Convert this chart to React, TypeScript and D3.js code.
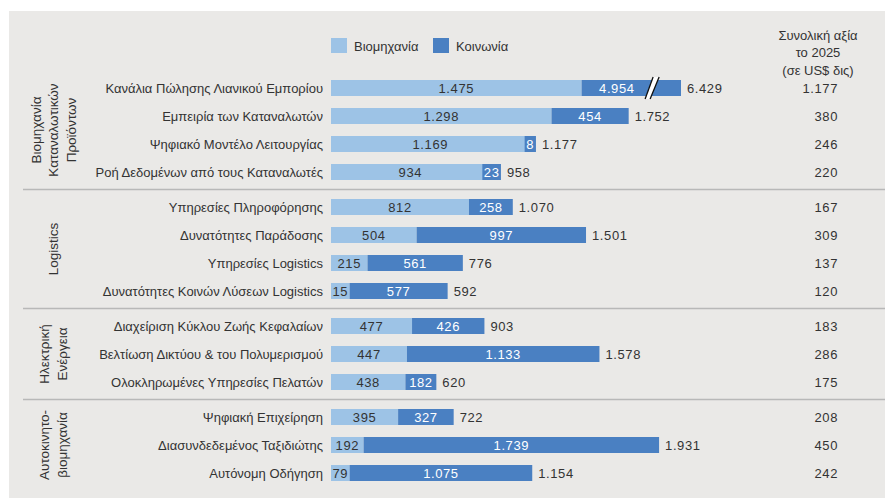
import * as d3 from "d3";

const categories = [
  "Κανάλια Πώλησης Λιανικού Εμπορίου",
  "Εμπειρία των Καταναλωτών",
  "Ψηφιακό Μοντέλο Λειτουργίας",
  "Ροή Δεδομένων από τους Καταναλωτές",
  "Υπηρεσίες Πληροφόρησης",
  "Δυνατότητες Παράδοσης",
  "Υπηρεσίες Logistics",
  "Δυνατότητες Κοινών Λύσεων Logistics",
  "Διαχείριση Κύκλου Ζωής Κεφαλαίων",
  "Βελτίωση Δικτύου & του Πολυμερισμού",
  "Ολοκληρωμένες Υπηρεσίες Πελατών",
  "Ψηφιακή Επιχείρηση",
  "Διασυνδεδεμένος Ταξιδιώτης",
  "Αυτόνομη Οδήγηση",
];
const groupOf = [0, 0, 0, 0, 1, 1, 1, 1, 2, 2, 2, 3, 3, 3];
const groupNames = [
  ["Βιομηχανία", "Καταναλωτικών", "Προϊόντων"],
  ["Logistics"],
  ["Ηλεκτρική", "Ενέργεια"],
  ["Αυτοκινητο-", "βιομηχανία"],
];
const industry = [1475, 1298, 1169, 934, 812, 504, 215, 15, 477, 447, 438, 395, 192, 79];
const society = [4954, 454, 8, 23, 258, 997, 561, 577, 426, 1133, 182, 327, 1739, 1075];
const totals = [6429, 1752, 1177, 958, 1070, 1501, 776, 592, 903, 1578, 620, 722, 1931, 1154];
const value2025 = [1177, 380, 246, 220, 167, 309, 137, 120, 183, 286, 175, 208, 450, 242];
const seriesNames = ["Βιομηχανία", "Κοινωνία"];
const headerLines = ["Συνολική αξία", "το 2025", "(σε US$ δις)"];

const W = 885;
const H = 498;
const LIGHT = "#9dc3e6";
const DARK = "#4a80c2";
const TEXT = "#333";
const FONT = "'Liberation Sans', Arial, sans-serif";

const locale = d3.formatLocale({ decimal: ",", thousands: ".", grouping: [3], currency: ["", ""] });
const fmt = locale.format(",d");

// scale is cut off at the break, the first bar is drawn broken
const x = d3.scaleLinear().domain([0, 2060]).range([331, 681]).clamp(true);
const gap = 0.25;
const slot = (i: number) => i + groupOf[i] * gap;
const y = d3
  .scaleLinear()
  .domain([0, slot(categories.length - 1)])
  .range([88, 473]);
const barH = 16;

const textW = (s: string) => s.length * 7.3 + 4;
const brk = x(1890);

export default function App() {
  const rows = categories.map((c, i) => {
    const a = fmt(industry[i]);
    const b = fmt(society[i]);
    const w1 = Math.max(x(industry[i]) - x(0), textW(a));
    const s2 = x(0) + w1;
    let w2 = x(industry[i] + society[i]) - x(industry[i]);
    if (i === 0) w2 = x.range()[1] - s2;
    let x2 = s2;
    if (w2 < textW(b)) {
      const cx = s2 + w2 / 2;
      w2 = textW(b);
      x2 = cx - w2 / 2;
    }
    // label of the broken segment sits before the break
    const bx = i === 0 ? (x2 + brk) / 2 : x2 + w2 / 2;
    return { c, i, a, b, w1, x2, w2, bx, end: Math.max(x2 + w2, x(0) + w1), cy: y(slot(i)) };
  });

  const separators = d3.range(1, groupNames.length).map((g) => {
    const first = groupOf.indexOf(g);
    return (y(slot(first - 1)) + y(slot(first))) / 2;
  });

  const groupCenters = groupNames.map((_, g) => {
    const idx = groupOf.map((v, i) => (v === g ? i : -1)).filter((v) => v >= 0);
    return (y(slot(idx[0])) + y(slot(idx[idx.length - 1]))) / 2;
  });

  return (
    <svg
      width={W}
      height={H}
      style={{ position: "absolute", left: 0, top: 0, fontFamily: FONT }}
    >
      <rect x={0} y={0} width={W} height={H} fill="#fff" />
      <rect x={9} y={11} width={W - 9} height={H - 11} fill="#eae9e7" />

      {/* legend */}
      {seriesNames.map((s, k) => (
        <g key={s} transform={`translate(${331 + k * 102},38)`}>
          <rect width={16} height={15} fill={k === 0 ? LIGHT : DARK} />
          <text x={23} y={8} dominantBaseline="central" fontSize={13} fill={TEXT}>
            {s}
          </text>
        </g>
      ))}

      {/* header of right column */}
      {headerLines.map((l, k) => (
        <text key={l} x={818} y={35 + k * 17.5} textAnchor="middle" dominantBaseline="central" fontSize={13} fill={TEXT}>
          {l}
        </text>
      ))}

      {/* separators */}
      {separators.map((sy, k) => (
        <line key={k} x1={23} x2={W} y1={sy} y2={sy} stroke="#b8b8b8" strokeWidth={1.5} />
      ))}

      {/* group labels */}
      {groupNames.map((lines, g) => {
        const cx = 53 - ((lines.length - 1) * 17.5) / 2;
        return (
          <text
            key={g}
            transform={`translate(${cx},${groupCenters[g]}) rotate(-90)`}
            textAnchor="middle"
            dominantBaseline="central"
            fontSize={13.5}
            fill={TEXT}
          >
            {lines.map((l, k) => (
              <tspan key={k} x={0} y={k * 17.5}>
                {l}
              </tspan>
            ))}
          </text>
        );
      })}

      {rows.map((r) => (
        <g key={r.i}>
          <text x={323} y={r.cy} textAnchor="end" dominantBaseline="central" fontSize={13} fill={TEXT}>
            {r.c}
          </text>
          <rect x={x(0)} y={r.cy - barH / 2} width={r.w1} height={barH} fill={LIGHT} />
          <rect x={r.x2} y={r.cy - barH / 2} width={r.w2} height={barH} fill={DARK} />
          <text
            x={x(0) + r.w1 / 2}
            y={r.cy + 0.5}
            textAnchor="middle"
            dominantBaseline="central"
            fontSize={13}
            letterSpacing={0.6}
            fill={TEXT}
          >
            {r.a}
          </text>
          <text
            x={r.bx}
            y={r.cy + 0.5}
            textAnchor="middle"
            dominantBaseline="central"
            fontSize={13}
            letterSpacing={0.6}
            fill="#fff"
          >
            {r.b}
          </text>
          <text x={r.end + 6} y={r.cy + 0.5} dominantBaseline="central" fontSize={13} letterSpacing={0.6} fill={TEXT}>
            {fmt(totals[r.i])}
          </text>
          <text x={838} y={r.cy + 0.5} textAnchor="end" dominantBaseline="central" fontSize={13} letterSpacing={0.6} fill={TEXT}>
            {fmt(value2025[r.i])}
          </text>
          {r.i === 0 && (
            <g>
              <polygon
                points={`${brk - 7},${r.cy + 11} ${brk + 1},${r.cy - 11} ${brk + 7},${r.cy - 11} ${brk - 2},${r.cy + 11}`}
                fill="#fff"
              />
              <line x1={brk - 7} y1={r.cy + 11} x2={brk + 1} y2={r.cy - 11} stroke="#111" strokeWidth={1.3} />
              <line x1={brk - 2} y1={r.cy + 11} x2={brk + 7} y2={r.cy - 11} stroke="#111" strokeWidth={1.3} />
            </g>
          )}
        </g>
      ))}
    </svg>
  );
}
